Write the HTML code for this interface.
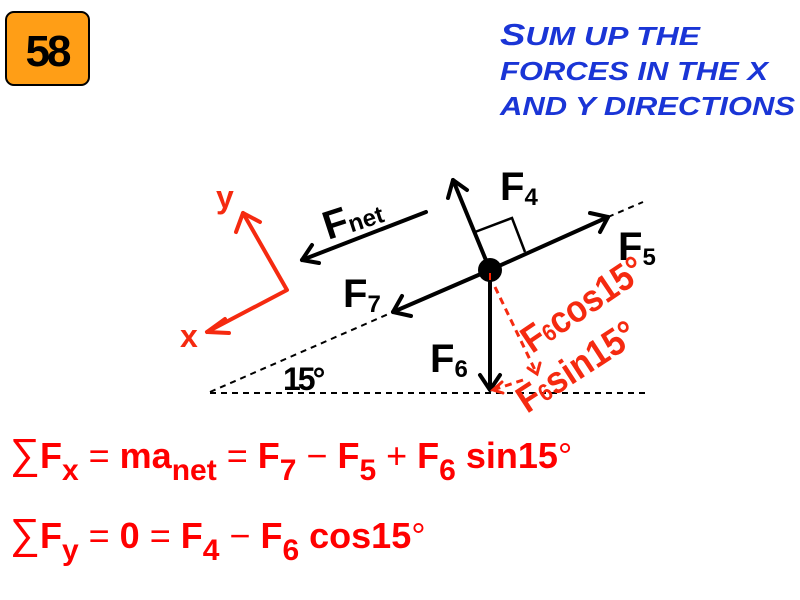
<!DOCTYPE html>
<html><head><meta charset="utf-8"><style>
html,body{margin:0;padding:0;background:#fff;}
svg{display:block;}
</style></head><body>
<svg width="800" height="600" viewBox="0 0 800 600" xmlns="http://www.w3.org/2000/svg">
<!-- badge -->
<rect x="6" y="12" width="83" height="73" rx="8" fill="#ff9e16" stroke="#000" stroke-width="2"/>
<text x="47" y="66" text-anchor="middle" font-family="Liberation Sans, sans-serif" font-weight="bold" font-size="44" fill="#000" letter-spacing="-3">58</text>
<!-- title -->
<g font-family="Liberation Sans, sans-serif" font-style="italic" font-weight="bold" fill="#1a35d6" font-size="26">
<text x="500" y="45" textLength="200" lengthAdjust="spacingAndGlyphs"><tspan font-size="31">S</tspan>UM UP THE</text>
<text x="500" y="80" textLength="268" lengthAdjust="spacingAndGlyphs">FORCES IN THE X</text>
<text x="500" y="115" textLength="295" lengthAdjust="spacingAndGlyphs">AND Y DIRECTIONS</text>
</g>
<!-- dashed lines -->
<g stroke="#000" stroke-width="2" stroke-dasharray="6,5" fill="none">
<line x1="210" y1="393" x2="650" y2="393"/>
<line x1="210" y1="392" x2="393" y2="312"/>
<line x1="608" y1="217" x2="643" y2="202"/>
</g>
<!-- force arrows -->
<g stroke="#000" stroke-width="4" fill="none" stroke-linecap="round" stroke-linejoin="round">
<line x1="490" y1="270" x2="608" y2="217"/>
<polyline points="590,213 608,217 600,232"/>
<line x1="490" y1="270" x2="393" y2="312"/>
<polyline points="402,296 393,312 411,316"/>
<line x1="490" y1="270" x2="453" y2="180"/>
<polyline points="448,198 453,180 467,190"/>
<line x1="490" y1="273" x2="490" y2="388"/>
<polyline points="480,375 490,390 500,375"/>
<line x1="426" y1="212" x2="302" y2="260"/>
<polyline points="312,245 302,260 319,263"/>
</g>
<polyline points="475,232 512,218 525,252" stroke="#000" stroke-width="2.5" fill="none"/>
<circle cx="490" cy="270" r="12" fill="#000"/>
<line x1="490" y1="273" x2="490" y2="280" stroke="#f20" stroke-width="2"/>
<!-- red components -->
<g stroke="#f52a10" stroke-width="3" fill="none" stroke-dasharray="7,5">
<line x1="495" y1="287" x2="535" y2="370"/>
<line x1="523" y1="380" x2="496" y2="389"/>
</g>
<g stroke="#f52a10" stroke-width="3" fill="none" stroke-linecap="round">
<polyline points="528,368 537,374 540,363"/>
<polyline points="502,382 493,390 503,393"/>
</g>
<!-- axes -->
<g stroke="#f52a10" stroke-width="4" fill="none" stroke-linecap="round" stroke-linejoin="round">
<polyline points="243,213 287,290 207,332"/>
<polyline points="236,232 243,213 260,222"/>
<polyline points="225,319 207,332 229,333"/>
</g>
<g font-family="Liberation Sans, sans-serif" font-weight="bold" fill="#f52a10">
<text x="216" y="208" font-size="32">y</text>
<text x="180" y="347" font-size="32">x</text>
</g>
<!-- black labels -->
<g font-family="Liberation Sans, sans-serif" font-weight="bold" fill="#000">
<g transform="translate(328,240) rotate(-18)"><text font-size="40">F<tspan font-size="24">net</tspan></text></g>
<text x="500" y="200" font-size="40">F<tspan font-size="24" dy="5">4</tspan></text>
<text x="618" y="260" font-size="40">F<tspan font-size="24" dy="5">5</tspan></text>
<text x="343" y="307" font-size="40">F<tspan font-size="24" dy="5">7</tspan></text>
<text x="430" y="372" font-size="40">F<tspan font-size="24" dy="5">6</tspan></text>
<text x="283" y="390" font-size="32" letter-spacing="-3">15°</text>
</g>
<g font-family="Liberation Sans, sans-serif" font-weight="bold" fill="#f52a10">
<g transform="translate(532,354) rotate(-34)"><text font-size="38" textLength="140" lengthAdjust="spacingAndGlyphs">F<tspan font-size="24">6</tspan>cos15°</text></g>
<g transform="translate(527,414) rotate(-33)"><text font-size="38" textLength="135" lengthAdjust="spacingAndGlyphs">F<tspan font-size="24">6</tspan>sin15°</text></g>
</g>
<!-- equations -->
<g font-family="Liberation Sans, sans-serif" font-weight="bold" fill="#f00" font-size="36">
<text x="10" y="468"><tspan font-weight="normal" font-size="42">∑</tspan>F<tspan dy="12" font-size="30">x</tspan><tspan dy="-12" font-weight="normal"> = </tspan>ma<tspan dy="12" font-size="30">net</tspan><tspan dy="-12" font-weight="normal"> = </tspan>F<tspan dy="12" font-size="30">7</tspan><tspan dy="-12" font-weight="normal"> − </tspan>F<tspan dy="12" font-size="30">5</tspan><tspan dy="-12" font-weight="normal"> + </tspan>F<tspan dy="12" font-size="30">6</tspan><tspan dy="-12"> sin15</tspan><tspan font-weight="normal">°</tspan></text>
<text x="10" y="548"><tspan font-weight="normal" font-size="42">∑</tspan>F<tspan dy="12" font-size="30">y</tspan><tspan dy="-12" font-weight="normal"> = </tspan>0<tspan font-weight="normal"> = </tspan>F<tspan dy="12" font-size="30">4</tspan><tspan dy="-12" font-weight="normal"> − </tspan>F<tspan dy="12" font-size="30">6</tspan><tspan dy="-12"> cos15</tspan><tspan font-weight="normal">°</tspan></text>
</g>
</svg>
</body></html>
